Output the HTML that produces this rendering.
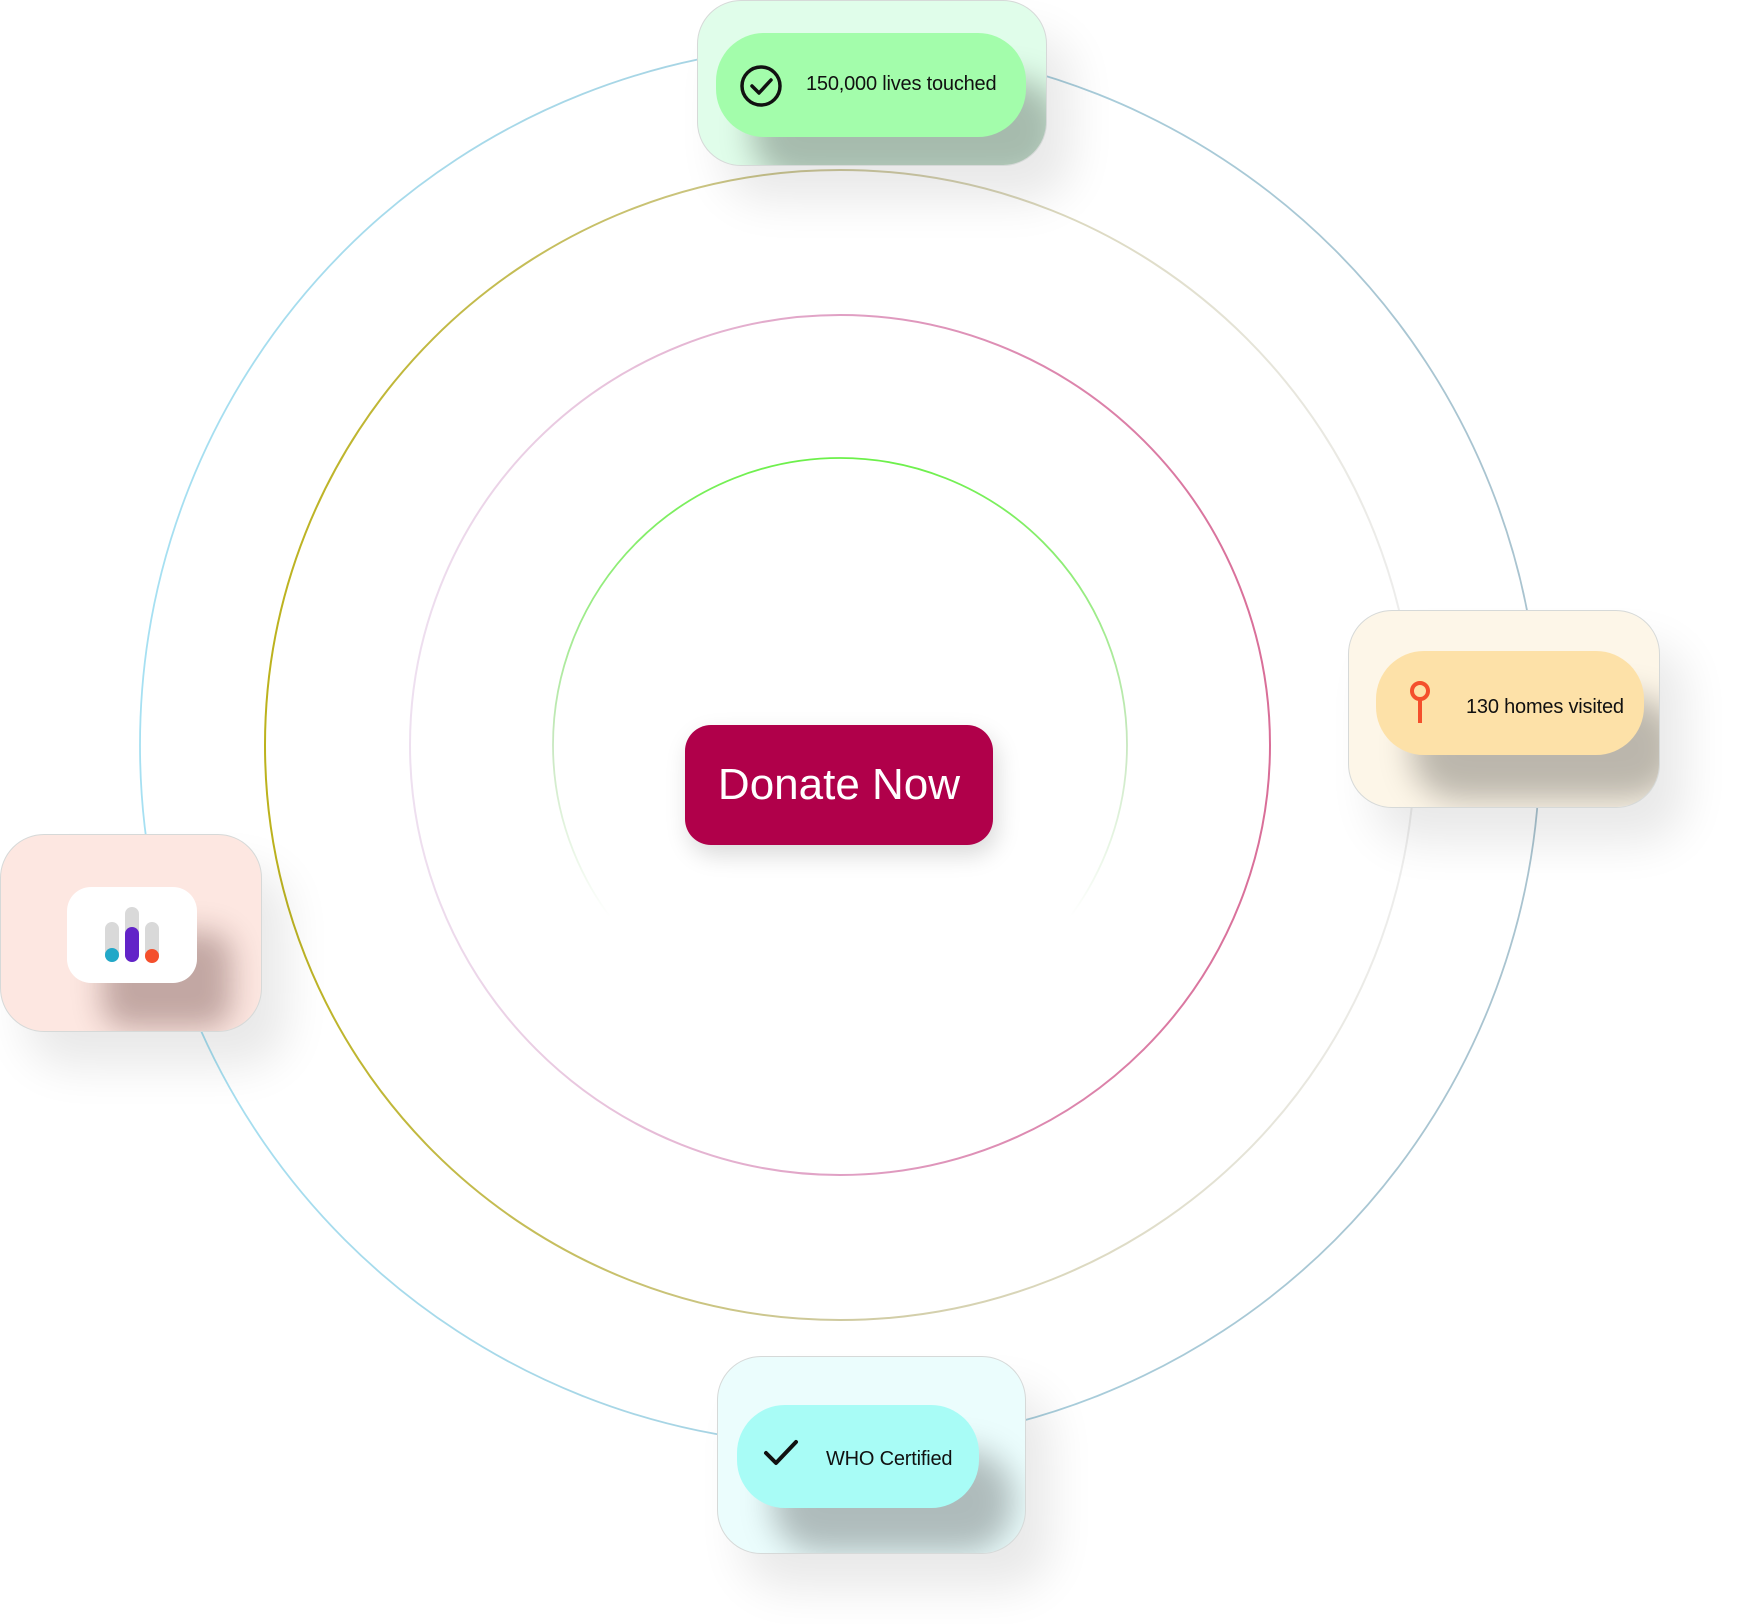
<!DOCTYPE html>
<html><head><meta charset="utf-8"><style>
html,body{margin:0;padding:0;background:#fff;}
body{width:1740px;height:1624px;position:relative;overflow:hidden;font-family:"Liberation Sans",sans-serif;}
.card{position:absolute;border:1.5px solid #d6d9d8;border-radius:44px;overflow:hidden;box-sizing:border-box;box-shadow:25px 35px 45px rgba(0,0,0,.09);}
.pill{position:absolute;border-radius:48px;box-shadow:35px 45px 32px rgba(0,0,0,.26);}
.txt{position:absolute;font-size:20px;color:#111;white-space:nowrap;letter-spacing:-0.2px;}
svg{position:absolute;left:0;top:0;}
</style></head><body>
<svg width="1740" height="1624" viewBox="0 0 1740 1624">
<defs>
<linearGradient id="gb" x1="0" y1="0" x2="1" y2="0"><stop offset="0" stop-color="#a6e0f2"/><stop offset="1" stop-color="#a9c3cf"/></linearGradient>
<linearGradient id="go" x1="0" y1="0" x2="1" y2="0"><stop offset="0" stop-color="#bcb21c"/><stop offset="0.5" stop-color="#cfcaa0"/><stop offset="1" stop-color="#eeeeee"/></linearGradient>
<linearGradient id="gp" x1="0" y1="0" x2="1" y2="0"><stop offset="0" stop-color="#eee0f0"/><stop offset="0.5" stop-color="#e0a0c4"/><stop offset="1" stop-color="#d96e98"/></linearGradient>
<linearGradient id="gg" x1="0" y1="0" x2="0" y2="1"><stop offset="0" stop-color="#6cf04a"/><stop offset="0.5" stop-color="#c8e8c0"/><stop offset="0.8" stop-color="#ffffff"/></linearGradient>
</defs>
<circle cx="840" cy="745" r="700" fill="none" stroke="url(#gb)" stroke-width="1.8"/>
<circle cx="840" cy="745" r="575" fill="none" stroke="url(#go)" stroke-width="2"/>
<circle cx="840" cy="745" r="430" fill="none" stroke="url(#gp)" stroke-width="2"/>
<circle cx="840" cy="745" r="287" fill="none" stroke="url(#gg)" stroke-width="1.8"/>
</svg>

<div class="card" style="left:697px;top:0;width:350px;height:166px;background:#e0fdea;">
  <div class="pill" style="left:18px;top:32px;width:310px;height:104px;background:#a3fdab;"></div>
  <svg width="350" height="166" style="left:0;top:0">
    <circle cx="63" cy="85" r="19" fill="none" stroke="#111" stroke-width="3.5"/>
    <path d="M54 85 L61 92 L73 79" fill="none" stroke="#111" stroke-width="3.5" stroke-linecap="round" stroke-linejoin="round"/>
  </svg>
  <div class="txt" style="left:108px;top:72px;">150,000 lives touched</div>
</div>

<div class="card" style="left:1348px;top:610px;width:312px;height:198px;background:#fdf6e8;">
  <div class="pill" style="left:27px;top:40px;width:268px;height:104px;background:#fde1a8;"></div>
  <svg width="312" height="198" style="left:0;top:0">
    <circle cx="71" cy="80" r="8" fill="none" stroke="#f44f2c" stroke-width="4"/>
    <line x1="71" y1="88" x2="71" y2="112" stroke="#f44f2c" stroke-width="4"/>
  </svg>
  <div class="txt" style="left:117px;top:85px;">130 homes visited</div>
</div>

<div class="card" style="left:0;top:834px;width:262px;height:198px;background:#fde7e1;">
  <div class="pill" style="left:66px;top:52px;width:130px;height:96px;background:#fff;border-radius:24px;box-shadow:35px 45px 30px rgba(60,20,20,.3);"></div>
  <svg width="262" height="198" style="left:0;top:0">
    <rect x="104" y="87" width="14" height="40" rx="7" fill="#d9d9d9"/>
    <rect x="124" y="72" width="14" height="55" rx="7" fill="#d9d9d9"/>
    <rect x="144" y="87" width="14" height="40" rx="7" fill="#d9d9d9"/>
    <circle cx="111" cy="120" r="7" fill="#22a8c8"/>
    <rect x="124" y="92" width="14" height="35" rx="7" fill="#6223c8"/>
    <circle cx="151" cy="121" r="7" fill="#f44f2c"/>
  </svg>
</div>

<div class="card" style="left:717px;top:1356px;width:309px;height:198px;background:#ebfdfd;">
  <div class="pill" style="left:19px;top:48px;width:242px;height:103px;background:#a8fcf6;"></div>
  <svg width="309" height="198" style="left:0;top:0">
    <path d="M48 96 L58 106 L78 85" fill="none" stroke="#111" stroke-width="4" stroke-linecap="round" stroke-linejoin="round"/>
  </svg>
  <div class="txt" style="left:108px;top:91px;">WHO Certified</div>
</div>

<div style="position:absolute;left:685px;top:725px;width:308px;height:120px;background:#b0004a;border-radius:26px;box-shadow:4px 10px 24px rgba(0,0,0,.15);color:#fff;font-size:44px;line-height:120px;text-align:center;">Donate Now</div>
</body></html>
